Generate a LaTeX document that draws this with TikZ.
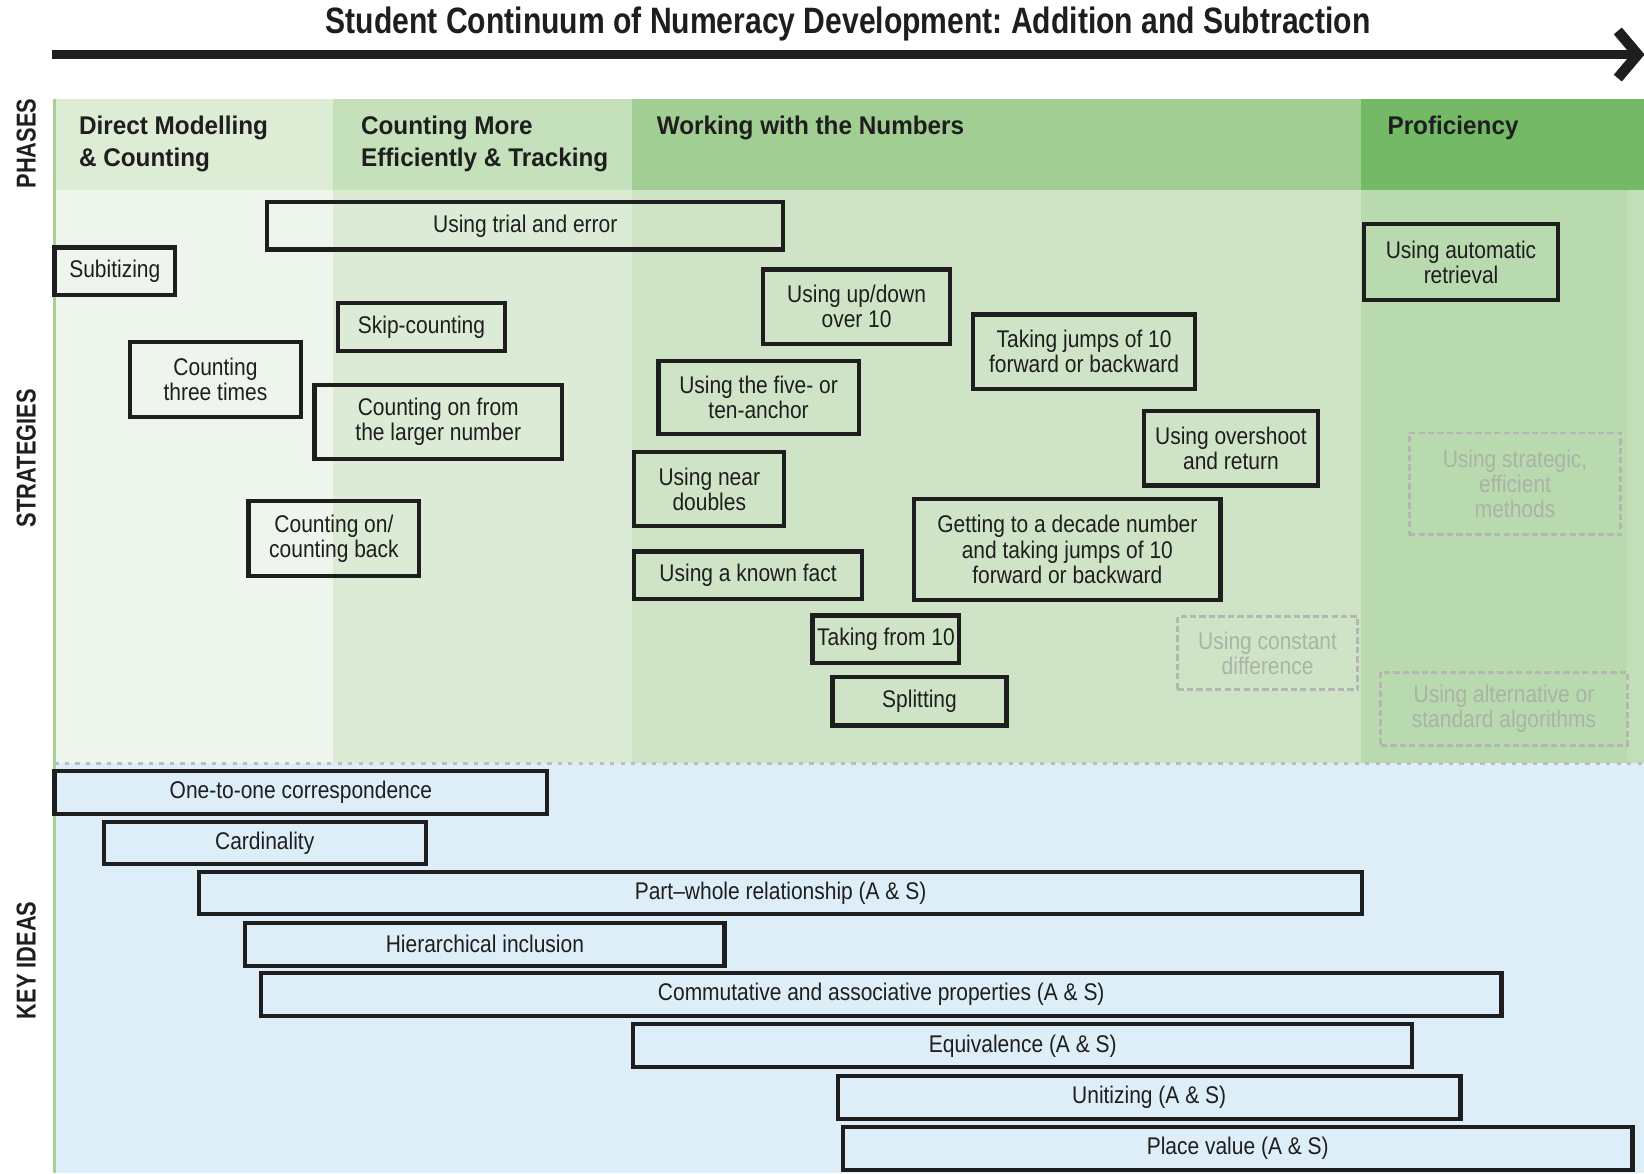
\documentclass[tikz,border=0pt]{standalone}
\usepackage{fontspec}
\setmainfont{Liberation Sans}[FakeStretch=0.87]
\newfontfamily\titlefam{Liberation Sans Bold}[FakeStretch=0.82]
\newfontfamily\headfam{Liberation Sans Bold}[FakeStretch=0.95]
\newfontfamily\sidefam{Liberation Sans Bold}[FakeStretch=0.8]
\frenchspacing
\definecolor{hA}{HTML}{DDEDD5}
\definecolor{hB}{HTML}{C5E1BB}
\definecolor{hC}{HTML}{A1CE93}
\definecolor{hD}{HTML}{74BA66}
\definecolor{sA}{HTML}{EEF5EC}
\definecolor{sB}{HTML}{DCEBD5}
\definecolor{sC}{HTML}{CFE4C7}
\definecolor{sD}{HTML}{B8DAAE}
\definecolor{sE}{HTML}{C2DFB9}
\definecolor{keybg}{HTML}{DDEEF8}
\definecolor{edgegreen}{HTML}{A6D096}
\definecolor{txt}{HTML}{1E1E1E}
\definecolor{dashgrey}{HTML}{B4B6B2}
\definecolor{dashtxt}{HTML}{A9B3A6}
\definecolor{sepgrey}{HTML}{BDBDBD}
\tikzset{
  boxfont/.style={font=\fontsize{11.5}{12}\selectfont},
  sbox/.style={draw=txt, line width=2pt, inner sep=0pt, align=center, text=txt, boxfont},
  dbox/.style={draw=dashgrey, line width=1.4pt, dash pattern=on 3pt off 1.5pt, inner sep=0pt, align=center, text=dashtxt, boxfont},
  phasehead/.style={anchor=north west, inner sep=0pt, align=left, text=txt, font=\headfam\fontsize{12.2}{15.5}\selectfont},
  sidelabel/.style={rotate=90, inner sep=0pt, text=txt, font=\sidefam\fontsize{13}{13}\selectfont}
}
\begin{document}
\begin{tikzpicture}[x=0.5pt, y=-0.5pt]
\clip (0,0) rectangle (1568,1119);
\fill[white] (0,0) rectangle (1568,1119);
% headers
\fill[hA] (52,94) rectangle (318,181);
\fill[hB] (318,94) rectangle (603,181);
\fill[hC] (603,94) rectangle (1298,181);
\fill[hD] (1298,94) rectangle (1568,181);
% strategies background
\fill[sA] (52,181) rectangle (318,728);
\fill[sB] (318,181) rectangle (603,728);
\fill[sC] (603,181) rectangle (1298,728);
\fill[sD] (1298,181) rectangle (1552,728);
\fill[sE] (1552,181) rectangle (1568,728);
% key ideas background
\fill[keybg] (52,728) rectangle (1568,1119);
\draw[edgegreen, line width=1.25pt] (52,94) -- (52,1119);
\draw[sepgrey, line width=1.5pt, dash pattern=on 2pt off 3pt] (52,728) -- (1568,728);

% title and arrow
\node[inner sep=0pt, text=txt, font=\titlefam\fontsize{17.5}{20}\selectfont] (title) at (809,23) {Student Continuum of Numeracy Development: Addition and Subtraction};
\coordinate (arrowstart) at (50,52);
\coordinate (arrowend) at (1556,52);
\draw[txt, line width=4pt] (arrowstart) -- (arrowend);
\draw[txt, line width=5pt, miter limit=10] (1543,29.5) -- (1562,52) -- (1543,74.5);

% side labels
\node[sidelabel] (lphases) at (25,137) {PHASES};
\node[sidelabel] (lstrat) at (25,437) {STRATEGIES};
\node[sidelabel] (lkey) at (25,916) {KEY IDEAS};

% phase headings
\node[phasehead] (ph1) at (75,110) {Direct Modelling\\\& Counting};
\node[phasehead] (ph2) at (344,110) {Counting More\\Efficiently \& Tracking};
\node[phasehead] (ph3) at (626,110) {Working with the Numbers};
\node[phasehead] (ph4) at (1323,110) {Proficiency};

% strategies
\node[sbox, minimum width=246pt, minimum height=22.5pt] (trial) at (501,215.5) {Using trial and error};
\node[sbox, minimum width=57.5pt, minimum height=22.5pt] (subit) at (109.5,258.5) {Subitizing};
\node[sbox, minimum width=80pt, minimum height=23pt] (skip) at (402,312) {Skip-counting};
\node[sbox, minimum width=81.5pt, minimum height=36pt] (three) at (205.5,362) {Counting\\three times};
\node[sbox, minimum width=118pt, minimum height=35.5pt] (larger) at (418,402.5) {Counting on from\\the larger number};
\node[sbox, minimum width=81.5pt, minimum height=35.5pt] (onback) at (318.5,513.5) {Counting on/\\counting back};
\node[sbox, minimum width=89pt, minimum height=35.5pt] (updown) at (817,292.5) {Using up/down\\over 10};
\node[sbox, minimum width=106pt, minimum height=35.5pt] (jumps) at (1034,335.5) {Taking jumps of 10\\forward or backward};
\node[sbox, minimum width=95.5pt, minimum height=35pt] (anchor) at (723.5,379) {Using the five- or\\ten-anchor};
\node[sbox, minimum width=83pt, minimum height=35.5pt] (overshoot) at (1174,427.5) {Using overshoot\\and return};
\node[sbox, minimum width=71.5pt, minimum height=35.5pt] (doubles) at (676.5,466.5) {Using near\\doubles};
\node[sbox, minimum width=146pt, minimum height=48pt] (decade) at (1018,524) {Getting to a decade number\\and taking jumps of 10\\forward or backward};
\node[sbox, minimum width=108.5pt, minimum height=22.5pt] (known) at (713.5,548.5) {Using a known fact};
\node[sbox, minimum width=70pt, minimum height=22.5pt] (from10) at (845,609.5) {Taking from 10};
\node[sbox, minimum width=83pt, minimum height=23pt] (split) at (877,669) {Splitting};
\node[dbox, minimum width=86pt, minimum height=35pt] (constdiff) at (1209,623) {Using constant\\difference};
\node[sbox, minimum width=92.5pt, minimum height=36pt] (auto) at (1393.5,250) {Using automatic\\retrieval};
\node[dbox, minimum width=101pt, minimum height=48.5pt] (strategic) at (1445,461.5) {Using strategic,\\efficient\\methods};
\node[dbox, minimum width=117.5pt, minimum height=35pt] (algo) at (1434.5,676) {Using alternative or\\standard algorithms};

% key ideas
\node[sbox, minimum width=235pt, minimum height=20.5pt] (onetoone) at (287,755.5) {One-to-one correspondence};
\node[sbox, minimum width=153.5pt, minimum height=20pt] (card) at (252.5,804) {Cardinality};
\node[sbox, minimum width=554.5pt, minimum height=20pt] (partwhole) at (744.5,852) {Part--whole relationship (A \& S)};
\node[sbox, minimum width=228.5pt, minimum height=20.5pt] (hier) at (462.5,900.5) {Hierarchical inclusion};
\node[sbox, minimum width=591.5pt, minimum height=20.5pt] (comm) at (840.5,948.5) {Commutative and associative properties (A \& S)};
\node[sbox, minimum width=371.5pt, minimum height=20.5pt] (equiv) at (975.5,997.5) {Equivalence (A \& S)};
\node[sbox, minimum width=297pt, minimum height=20.5pt] (unit) at (1096,1046.5) {Unitizing (A \& S)};
\node[sbox, minimum width=376.5pt, minimum height=20.5pt] (place) at (1180.5,1095.5) {Place value (A \& S)};
\end{tikzpicture}
\end{document}
